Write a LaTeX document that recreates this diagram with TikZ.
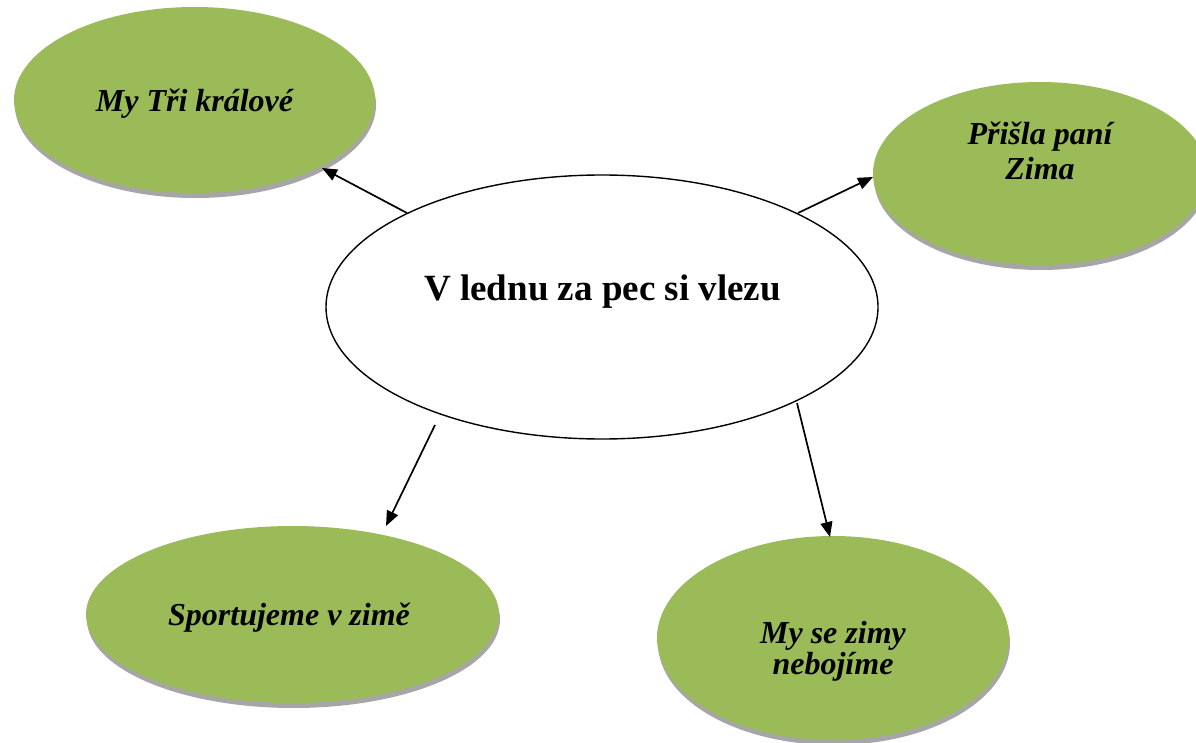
\documentclass[tikz,border=0pt]{standalone}
\usepackage{fontspec}
\setmainfont{Liberation Serif}
\usetikzlibrary{shapes.geometric,shadows,arrows.meta}
\definecolor{leafgreen}{HTML}{9BBB59}
\definecolor{shadowgray}{HTML}{A6A6A6}
\tikzset{
  greenbubble/.style={ellipse, inner sep=0pt, fill=leafgreen,
    drop shadow={shadow xshift=1pt, shadow yshift=-5pt, fill=shadowgray, opacity=1}},
  centerbubble/.style={ellipse, inner sep=0pt, draw=black, line width=1.4pt, fill=white},
  greentext/.style={anchor=base, inner sep=0pt, font=\bfseries\itshape\fontsize{32}{31}\selectfont},
  centertext/.style={anchor=base, inner sep=0pt, font=\bfseries\fontsize{37}{40}\selectfont},
  arrowline/.style={line width=1.7pt, -{Triangle[length=15pt,width=12pt]}}
}
\begin{document}
\begin{tikzpicture}[x=1pt,y=-1pt]
\useasboundingbox (0,0) rectangle (1196,743);
% bubbles
\node[greenbubble, minimum width=361pt, minimum height=186pt] (kings) at (194.5,100) {};
\node[greenbubble, minimum width=334pt, minimum height=183pt] (winter) at (1040,173.5) {};
\node[greenbubble, minimum width=413pt, minimum height=177pt] (sport) at (292.5,614.5) {};
\node[greenbubble, minimum width=352pt, minimum height=204pt] (fear) at (833,638) {};
\node[centerbubble, minimum width=552pt, minimum height=264pt] (main) at (602,307) {};
% texts
\node[centertext] (maint) at (602.5,300) {V lednu za pec si vlezu};
\node[greentext] (kingst) at (194.5,112) {My Tři králové};
\node[greentext] (sportt) at (289,625) {Sportujeme v zimě};
\node[greentext] (wintert) at (1040,145) {\fontsize{32}{35}\selectfont\begin{tabular}[t]{@{}c@{}}Přišla paní\\Zima\end{tabular}};
\node[greentext] (feart) at (833,643) {\begin{tabular}[t]{@{}c@{}}My se zimy\\nebojíme\end{tabular}};
% connector ends
\coordinate (s1) at (407,213);
\coordinate (e1) at (322,168);
\coordinate (s2) at (798,213);
\coordinate (e2) at (873,177);
\coordinate (s3) at (435,425);
\coordinate (e3) at (386,526);
\coordinate (s4) at (797,403);
\coordinate (e4) at (830,537);
\draw[arrowline] (s1) -- (e1);
\draw[arrowline] (s2) -- (e2);
\draw[arrowline] (s3) -- (e3);
\draw[arrowline] (s4) -- (e4);
\end{tikzpicture}
\end{document}
